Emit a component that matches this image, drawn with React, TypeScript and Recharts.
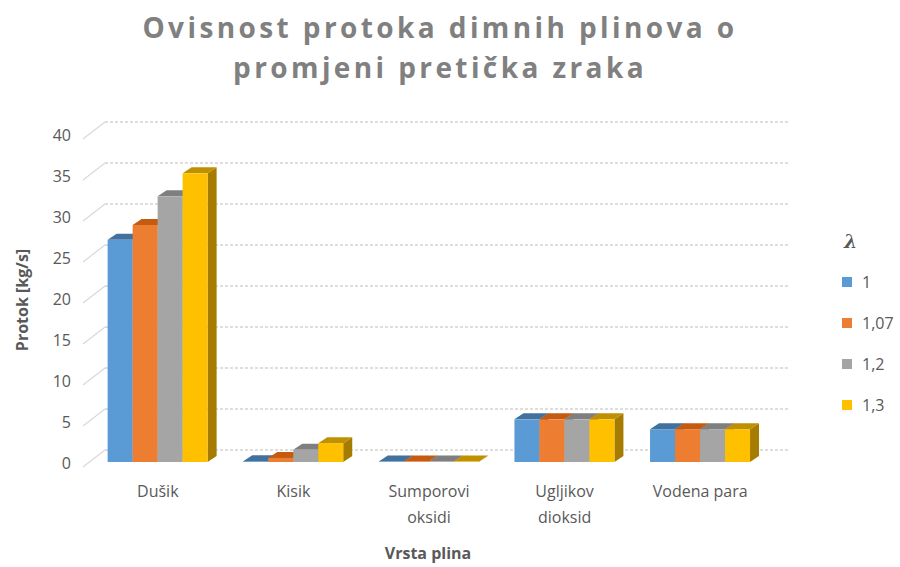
import React from 'react';
import { BarChart, Bar, XAxis, YAxis, CartesianGrid, Text } from 'recharts';

// Gas types and flow values [kg/s] per excess air ratio (lambda)
const categories = ['Dušik', 'Kisik', 'Sumporovi oksidi', 'Ugljikov dioksid', 'Vodena para'];
const lambda1 = [27.1, 0.1, 0.05, 5.2, 4.0];
const lambda107 = [28.9, 0.5, 0.05, 5.2, 4.0];
const lambda12 = [32.4, 1.5, 0.05, 5.2, 4.0];
const lambda13 = [35.2, 2.3, 0.05, 5.2, 4.0];
const seriesNames = ['1', '1,07', '1,2', '1,3'];
const yTicks = [0, 5, 10, 15, 20, 25, 30, 35, 40];

const FONT = '"Open Sans", sans-serif';
const TEXT = '#595959';

// front / top / side colours for the 3D bars
const SERIES = [
  { key: 's1', front: '#5b9bd5', top: '#41719c', side: '#3d6a93' },
  { key: 's2', front: '#ed7d31', top: '#c55a11', side: '#ae5a21' },
  { key: 's3', front: '#a5a5a5', top: '#7f7f7f', side: '#767676' },
  { key: 's4', front: '#ffc000', top: '#bf9000', side: '#a67c00' },
];

const DX = 9;
const DY = 6;

const data = categories.map((name, i) => ({
  name,
  s1: lambda1[i],
  s2: lambda107[i],
  s3: lambda12[i],
  s4: lambda13[i],
}));

function Bar3D(props: any) {
  const { x, y, width, height, front, top, side } = props;
  if (x == null || y == null) return null;
  const h = Math.max(height || 0, 0);
  const topPts = `${x},${y} ${x + DX},${y - DY} ${x + width + DX},${y - DY} ${x + width},${y}`;
  const sidePts = `${x + width},${y} ${x + width + DX},${y - DY} ${x + width + DX},${y + h - DY} ${x + width},${y + h}`;
  return (
    <g>
      <polygon points={sidePts} fill={side} />
      <polygon points={topPts} fill={top} />
      <rect x={x} y={y} width={width} height={h} fill={front} />
    </g>
  );
}

// gridlines sit on the back wall
function BackGridLine(props: any) {
  const { x1, x2, y1, index } = props;
  return (
    <line
      key={`g-${index}`}
      x1={x1 + 15}
      x2={x2 + 22}
      y1={y1 - 12}
      y2={y1 - 12}
      stroke="#d4d4d4"
      strokeWidth={1.5}
      strokeDasharray="3 2"
    />
  );
}

function YTick({ y, payload }: any) {
  return (
    <g>
      <line x1={83} y1={y + 5} x2={105} y2={y - 12} stroke="#d9d9d9" strokeWidth={1.2} />
      <text
        x={71}
        y={y + 1}
        textAnchor="end"
        dominantBaseline="central"
        fill={TEXT}
        fontSize={16}
        fontFamily={FONT}
      >
        {payload.value}
      </text>
    </g>
  );
}

function XTick({ x, y, payload }: any) {
  return (
    <Text
      x={x}
      y={y + 16}
      width={104}
      textAnchor="middle"
      verticalAnchor="start"
      lineHeight={26}
      fill={TEXT}
      fontSize={16}
      fontFamily={FONT}
      style={{ fontSize: 16, fontFamily: FONT }}
    >
      {payload.value}
    </Text>
  );
}

function LegendBox() {
  return (
    <div style={{ fontFamily: FONT, color: TEXT, position: 'absolute', left: 836, top: 228, width: 70, height: 200 }}>
      <div
        style={{
          position: 'absolute',
          left: 8,
          top: 2,
          fontSize: 19,
          fontWeight: 700,
          fontStyle: 'italic',
          fontFamily: '"DejaVu Serif", serif',
        }}
      >
        λ
      </div>
      {SERIES.map((s, i) => (
        <div
          key={s.key}
          style={{ position: 'absolute', left: 6, top: 43 + i * 41, display: 'flex', alignItems: 'center' }}
        >
          <span style={{ display: 'inline-block', width: 10, height: 10, background: s.front, marginRight: 10 }} />
          <span style={{ fontSize: 16 }}>{seriesNames[i]}</span>
        </div>
      ))}
    </div>
  );
}

export default function App() {
  return (
    <div style={{ position: 'absolute', left: 0, top: 0, width: 900, height: 567, background: '#fff' }}>
      <div
        style={{
          position: 'absolute',
          left: 0,
          top: 7,
          width: 880,
          textAlign: 'center',
          fontFamily: FONT,
          fontWeight: 700,
          fontSize: 28,
          letterSpacing: 3.4,
          lineHeight: '40px',
          color: '#808080',
        }}
      >
        Ovisnost protoka dimnih plinova o
        <br />
        promjeni pretička zraka
      </div>
      <div
        style={{
          position: 'absolute',
          left: 22,
          top: 300,
          transform: 'translate(-50%, -50%) rotate(-90deg)',
          whiteSpace: 'nowrap',
          fontFamily: FONT,
          fontWeight: 700,
          fontSize: 16,
          color: TEXT,
        }}
      >
        Protok [kg/s]
      </div>
      <div
        style={{
          position: 'absolute',
          left: 428,
          top: 553,
          transform: 'translate(-50%, -50%)',
          whiteSpace: 'nowrap',
          fontFamily: FONT,
          fontWeight: 700,
          fontSize: 16,
          color: TEXT,
        }}
      >
        Vrsta plina
      </div>
      <BarChart
        width={900}
        height={567}
        data={data}
        margin={{ top: 134, right: 132, bottom: 0, left: 30 }}
        barCategoryGap="13%"
        barGap={0}
      >
        <CartesianGrid vertical={false} horizontal={(p: any) => <BackGridLine {...p} />} />
        <XAxis dataKey="name" height={105} axisLine={false} tickLine={false} tick={<XTick />} interval={0} />
        <YAxis
          width={60}
          domain={[0, 40]}
          ticks={yTicks}
          axisLine={false}
          tickLine={false}
          tick={<YTick />}
        />
        {SERIES.map((s, i) => (
          <Bar
            key={s.key}
            dataKey={s.key}
            name={seriesNames[i]}
            fill={s.front}
            isAnimationActive={false}
            shape={(p: any) => <Bar3D {...p} front={s.front} top={s.top} side={s.side} />}
          />
        ))}
      </BarChart>
      <LegendBox />
    </div>
  );
}
